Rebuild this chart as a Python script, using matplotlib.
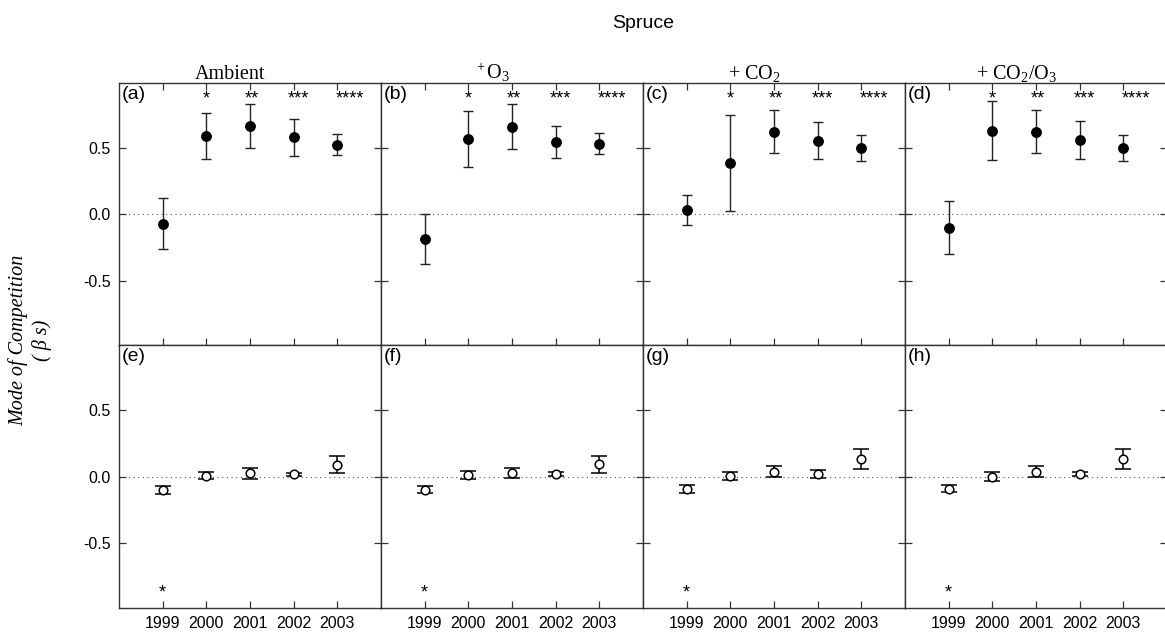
import matplotlib
matplotlib.use("Agg")
import matplotlib.pyplot as plt

plt.rcParams['font.family'] = ['Liberation Sans', 'DejaVu Sans']
plt.rcParams['mathtext.fontset'] = 'custom'
plt.rcParams['mathtext.rm'] = 'Liberation Serif'
plt.rcParams['mathtext.it'] = 'Liberation Serif:italic'
plt.rcParams['axes.unicode_minus'] = False

years = [1999, 2000, 2001, 2002, 2003]
titles = ['Ambient', '$^+$O$_3$', '+ CO$_2$', '+ CO$_2$/O$_3$']
labels_top = ['(a)', '(b)', '(c)', '(d)']
labels_bot = ['(e)', '(f)', '(g)', '(h)']
stars_top = ['', '*', '**', '***', '****']
stars_bot = ['*', '', '', '', '']

# upper row (filled): mean and error
amb_top = [-0.07, 0.594, 0.667, 0.582, 0.527]
amb_top_err = [0.195, 0.175, 0.165, 0.14, 0.08]
o3_top = [-0.187, 0.57, 0.662, 0.545, 0.533]
o3_top_err = [0.19, 0.21, 0.17, 0.12, 0.08]
co2_top = [0.033, 0.388, 0.626, 0.557, 0.503]
co2_top_err = [0.11, 0.36, 0.165, 0.142, 0.10]
co2o3_top = [-0.10, 0.633, 0.626, 0.561, 0.503]
co2o3_top_err = [0.20, 0.225, 0.165, 0.145, 0.10]

# lower row (open)
amb_bot = [-0.10, 0.008, 0.025, 0.017, 0.09]
amb_bot_err = [0.028, 0.026, 0.042, 0.012, 0.065]
o3_bot = [-0.098, 0.012, 0.027, 0.02, 0.092]
o3_bot_err = [0.027, 0.03, 0.04, 0.012, 0.065]
co2_bot = [-0.093, 0.008, 0.036, 0.018, 0.135]
co2_bot_err = [0.028, 0.03, 0.042, 0.03, 0.075]
co2o3_bot = [-0.09, 0.0, 0.038, 0.02, 0.13]
co2o3_bot_err = [0.028, 0.031, 0.04, 0.015, 0.075]

top_data = [(amb_top, amb_top_err), (o3_top, o3_top_err),
            (co2_top, co2_top_err), (co2o3_top, co2o3_top_err)]
bot_data = [(amb_bot, amb_bot_err), (o3_bot, o3_bot_err),
            (co2_bot, co2_bot_err), (co2o3_bot, co2o3_bot_err)]

W, H = 1165, 637
fig = plt.figure(figsize=(W / 100, H / 100), dpi=100)

x0, y0, pw, ph = 119, 83.3, 262, 262.2
star_shift = {'*': 0.0, '**': 0.05, '***': 0.1, '****': 0.3}
serif = ['Liberation Serif', 'DejaVu Serif']
spine_c = '#333333'


def style(ax, first, bottom_row):
    ax.set_xlim(1998, 2004)
    ax.set_ylim(-0.99, 0.99)
    ax.set_xticks(years)
    ax.set_yticks([-0.5, 0, 0.5])
    ax.set_yticklabels(['-0.5', '0.0', '0.5'])
    for s in ax.spines.values():
        s.set_color(spine_c)
        s.set_linewidth(1.0)
    ax.tick_params(direction='in', length=5, width=0.9, color=spine_c,
                   labelsize=11.5, pad=6)
    ax.tick_params(axis='y', left=True, right=True, labelleft=first)
    if bottom_row:
        ax.tick_params(axis='x', top=False, bottom=True, labelbottom=True)
    else:
        ax.tick_params(axis='x', top=True, bottom=True, labelbottom=False)
    ax.axhline(0, color='#555555', ls=(0, (1, 3.2)), lw=0.8, zorder=1)


for c in range(4):
    left = (x0 + pw * c) / W
    # upper panel
    ax = fig.add_axes([left, 1 - (y0 + ph) / H, pw / W, ph / H])
    style(ax, c == 0, False)
    m, e = top_data[c]
    ax.errorbar(years, m, yerr=e, fmt='o', color='black', ms=6.8,
                ecolor='#222222', elinewidth=1, capsize=3.8, capthick=1,
                zorder=3)
    for yr, st in zip(years, stars_top):
        if st:
            ax.text(yr + star_shift[st], 0.835, st, ha='center', va='baseline',
                    fontsize=13)
    ax.text(0.01, 0.99, labels_top[c], transform=ax.transAxes, ha='left',
            va='top', fontsize=14)
    ax.text(0.5 - 20 / pw, 1 + 4 / ph, titles[c], transform=ax.transAxes,
            ha='center', va='baseline', fontsize=14.5, family=serif)

    # lower panel
    ax2 = fig.add_axes([left, 1 - (y0 + 2 * ph) / H, pw / W, ph / H])
    style(ax2, c == 0, True)
    m, e = bot_data[c]
    ax2.errorbar(years, m, yerr=e, fmt='o', mfc='white', mec='black',
                 mew=1.1, ms=6.2, ecolor='black', elinewidth=1.1,
                 capsize=5.6, capthick=1.4, zorder=3)
    for yr, st in zip(years, stars_bot):
        if st:
            ax2.text(yr, -0.915, st, ha='center', va='baseline', fontsize=13)
    ax2.text(0.01, 0.99, labels_bot[c], transform=ax2.transAxes, ha='left',
             va='top', fontsize=14)

fig.text(643 / W, 1 - 23 / H, 'Spruce', ha='center', va='center', fontsize=14)
fig.text(30 / W, 1 - 340 / H, 'Mode of Competition\n( β s)', rotation=90,
         ha='center', va='center', multialignment='center', fontsize=14.5,
         family=serif, style='italic', linespacing=1.25)

fig.savefig('out.png', dpi=100)
